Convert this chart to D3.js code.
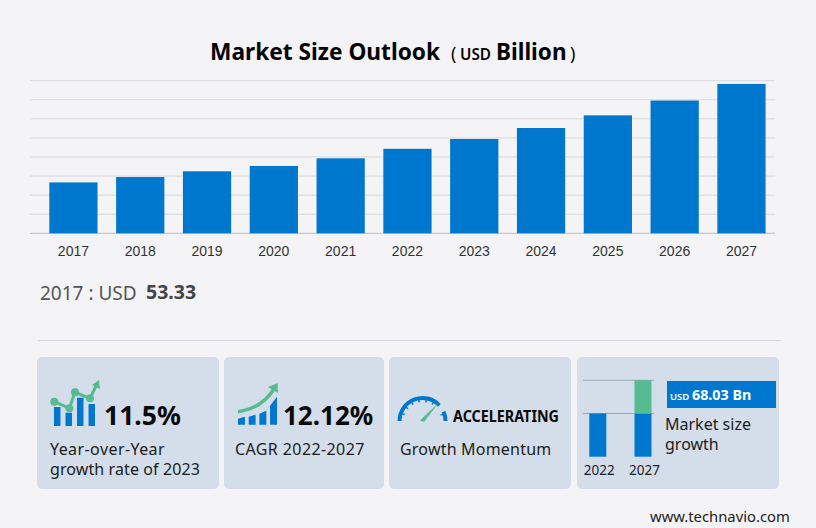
<!DOCTYPE html>
<html>
<head>
<meta charset="utf-8">
<script src="https://cdn.jsdelivr.net/npm/d3@7"></script>
<style>
html, body { margin: 0; padding: 0; background: #f4f4f6; overflow: hidden; }
svg { display: block; }
text { font-family: "Noto Sans", sans-serif; }
</style>
</head>
<body>
<svg id="chart" width="816" height="528"></svg>
<script>
const years = ["2017","2018","2019","2020","2021","2022","2023","2024","2025","2026","2027"]
const marketSize = [53.33, 59.0, 65.0, 70.6, 78.6, 88.6, 98.9, 110.4, 123.7, 139.2, 156.6]
const gridTicks = [0, 20, 40, 60, 80, 100, 120, 140, 160]
const miniYears = ["2022", "2027"]
const miniBase = [88.6, 88.6]
const miniGrowth = [0, 68.03]
const yoyBars = [19, 13.3, 28.3, 22]
const cagrLeft = [6, 8, 11, 19]
const cagrRight = [8, 10, 14, 28]
const gaugeTicks = [-70, -50, -30, -10, 10, 30, 72]

const svg = d3.select("#chart")
const BLUE = "#0077cf", GREEN = "#55bb90", CARD = "#d3deea"

// main bars
const x = d3.scaleBand().domain(years).range([39.5, 775.4]).paddingInner(0.278).paddingOuter(0.147)
const y = d3.scaleLinear().domain([0, 160]).range([233.3, 80.7])

svg.append("g").selectAll("line").data(gridTicks).enter().append("line")
    .attr("x1", 30).attr("x2", 775)
    .attr("y1", d => y(d)).attr("y2", d => y(d))
    .attr("stroke", d => d == 0 ? "#b9bcc2" : "#d8d9dd").attr("stroke-width", 1)

svg.append("g").selectAll("rect").data(marketSize).enter().append("rect")
    .attr("x", (d, i) => x(years[i]))
    .attr("width", x.bandwidth())
    .attr("y", d => y(d))
    .attr("height", d => y(0) - y(d))
    .attr("fill", BLUE)

const xAxis = svg.append("g").attr("transform", "translate(0,233.3)")
    .call(d3.axisBottom(x).tickSize(0).tickPadding(13))
xAxis.select(".domain").remove()
xAxis.selectAll("text").style("font-family", '"Liberation Sans", sans-serif')
    .style("font-size", "14px").attr("fill", "#333")

// title
const title = svg.append("text").attr("x", 210).attr("y", 60).attr("fill", "#050505")
title.append("tspan").attr("font-size", 22.7).attr("font-weight", 700).text("Market Size Outlook")
title.append("tspan").attr("x", 451).attr("font-size", 18).text("(")
title.append("tspan").attr("x", 460).attr("font-size", 15.3).attr("font-weight", 600).text("USD")
title.append("tspan").attr("x", 496).attr("font-size", 22.5).attr("font-weight", 700).text("Billion")
title.append("tspan").attr("x", 570).attr("font-size", 18).text(")")

svg.append("text").attr("x", 40).attr("y", 300).attr("font-size", 19).attr("fill", "#555").text("2017 : USD")
svg.append("text").attr("x", 146).attr("y", 299).attr("font-size", 19.5).attr("font-weight", 700).attr("fill", "#444").text("53.33")

svg.append("line").attr("x1", 38).attr("x2", 781).attr("y1", 340.5).attr("y2", 340.5).attr("stroke", "#cfd3e2")

// cards
const cards = [[37, 182], [224, 160], [389, 182], [577, 202]]
svg.append("g").selectAll("rect").data(cards).enter().append("rect")
    .attr("x", d => d[0]).attr("y", 357).attr("width", d => d[1]).attr("height", 132)
    .attr("rx", 5).attr("fill", CARD)

function label(px, py, size, txt, weight, fill, spacing) {
    return svg.append("text").attr("x", px).attr("y", py).attr("font-size", size)
        .attr("font-weight", weight || 400).attr("fill", fill || "#1c1c1c")
        .style("letter-spacing", (spacing || 0) + "px").text(txt)
}

// card 1
const yoyX = d3.scaleBand().domain(d3.range(4)).range([54, 95]).paddingInner(0.44)
const iconY = d3.scaleLinear().domain([0, 28.3]).range([426, 397.7])
svg.append("g").selectAll("rect").data(yoyBars).enter().append("rect")
    .attr("x", (d, i) => yoyX(i)).attr("width", yoyX.bandwidth())
    .attr("y", d => iconY(d)).attr("height", d => iconY(0) - iconY(d)).attr("fill", BLUE)
const yoyPoints = [[54.3, 401.7], [69.3, 408.3], [75, 392.3], [90, 398.3]]
svg.append("path").attr("d", d3.line()(yoyPoints.concat([[97, 384]]))).attr("fill", "none").attr("stroke", GREEN).attr("stroke-width", 3)
svg.append("g").selectAll("circle").data(yoyPoints).enter().append("circle")
    .attr("cx", d => d[0]).attr("cy", d => d[1]).attr("r", 4).attr("fill", GREEN)
svg.append("path").attr("d", "M92,385 L99,380 L100,389 Z").attr("fill", GREEN)
label(104, 425, 26.5, "11.5%", 700, "#0a0a0a")
label(50, 455, 16, "Year-over-Year", 400, null, 0.42)
label(50, 475, 16, "growth rate of 2023", 400, null, 0.1)

// card 2
const cagrX = d3.scaleBand().domain(d3.range(4)).range([238, 277]).paddingInner(0.35)
const cagrY = d3.scaleLinear().domain([0, 28]).range([424.7, 396.7])
svg.append("g").selectAll("path").data(cagrRight).enter().append("path")
    .attr("d", (d, i) => d3.line()([
        [cagrX(i), cagrY(0)], [cagrX(i), cagrY(cagrLeft[i])],
        [cagrX(i) + cagrX.bandwidth(), cagrY(d)], [cagrX(i) + cagrX.bandwidth(), cagrY(0)]
    ]) + "Z")
    .attr("fill", BLUE)
svg.append("path").attr("d", "M238,411.7 C251,410 265,403 274,389").attr("fill", "none").attr("stroke", GREEN).attr("stroke-width", 3.5)
svg.append("path").attr("d", "M268,387 L277.5,383 L278,393 Z").attr("fill", GREEN)
label(283, 425, 26, "12.12%", 700, "#0a0a0a")
label(235, 455, 16, "CAGR  2022-2027", 400, null, 0.4)

// card 3
const gaugeArc = d3.arc().innerRadius(21).outerRadius(25)
const toRad = Math.PI / 180
svg.append("g").attr("transform", "translate(422.5,421)").selectAll("path")
    .data([[-90, 47], [66, 90]]).enter().append("path")
    .attr("d", d => gaugeArc({ startAngle: d[0] * toRad, endAngle: d[1] * toRad }))
    .attr("fill", BLUE)
svg.append("g").attr("transform", "translate(422.5,421)").selectAll("line")
    .data(gaugeTicks).enter().append("line")
    .attr("x1", d => Math.sin(d * toRad) * 21.5).attr("y1", d => -Math.cos(d * toRad) * 21.5)
    .attr("x2", d => Math.sin(d * toRad) * 19).attr("y2", d => -Math.cos(d * toRad) * 19)
    .attr("stroke", BLUE).attr("stroke-width", 1.5)
svg.append("path").attr("d", "M420,420.5 L432,409 L439.5,401.5 L424,422 Z").attr("fill", GREEN)
label(453, 422, 16.5, "ACCELERATING", 700, "#0a0a0a")
    .attr("textLength", 106).attr("lengthAdjust", "spacingAndGlyphs")
label(400, 455, 16, "Growth Momentum", 400, null, 0.2)

// card 4
const miniX = d3.scalePoint().domain(miniYears).range([597.8, 643])
const miniY = d3.scaleLinear().domain([0, 156.63]).range([456.7, 380.3])
svg.append("g").selectAll("line").data([88.6, 156.63]).enter().append("line")
    .attr("x1", 583).attr("x2", 654).attr("y1", d => miniY(d)).attr("y2", d => miniY(d))
    .attr("stroke", "#9aa7b5")
miniYears.forEach((yr, i) => {
    svg.append("rect").attr("x", miniX(yr) - 8.5).attr("width", 17)
        .attr("y", miniY(miniBase[i])).attr("height", miniY(0) - miniY(miniBase[i])).attr("fill", BLUE)
    if (miniGrowth[i] > 0) svg.append("rect").attr("x", miniX(yr) - 8.5).attr("width", 17)
        .attr("y", miniY(miniBase[i] + miniGrowth[i])).attr("height", miniY(miniBase[i]) - miniY(miniBase[i] + miniGrowth[i])).attr("fill", GREEN)
    label(miniX(yr) + 1.5, 475, 13.5, yr).attr("text-anchor", "middle")
})
svg.append("rect").attr("x", 667).attr("y", 381).attr("width", 109).attr("height", 27).attr("fill", BLUE)
label(670, 400, 9.5, "USD", 600, "#fff")
label(692, 400, 14.3, "68.03 Bn", 700, "#fff")
label(665, 430, 16, "Market size")
label(665, 450, 16, "growth")

label(650, 522, 14.8, "www.technavio.com", 400, "#222")
</script>
</body>
</html>
